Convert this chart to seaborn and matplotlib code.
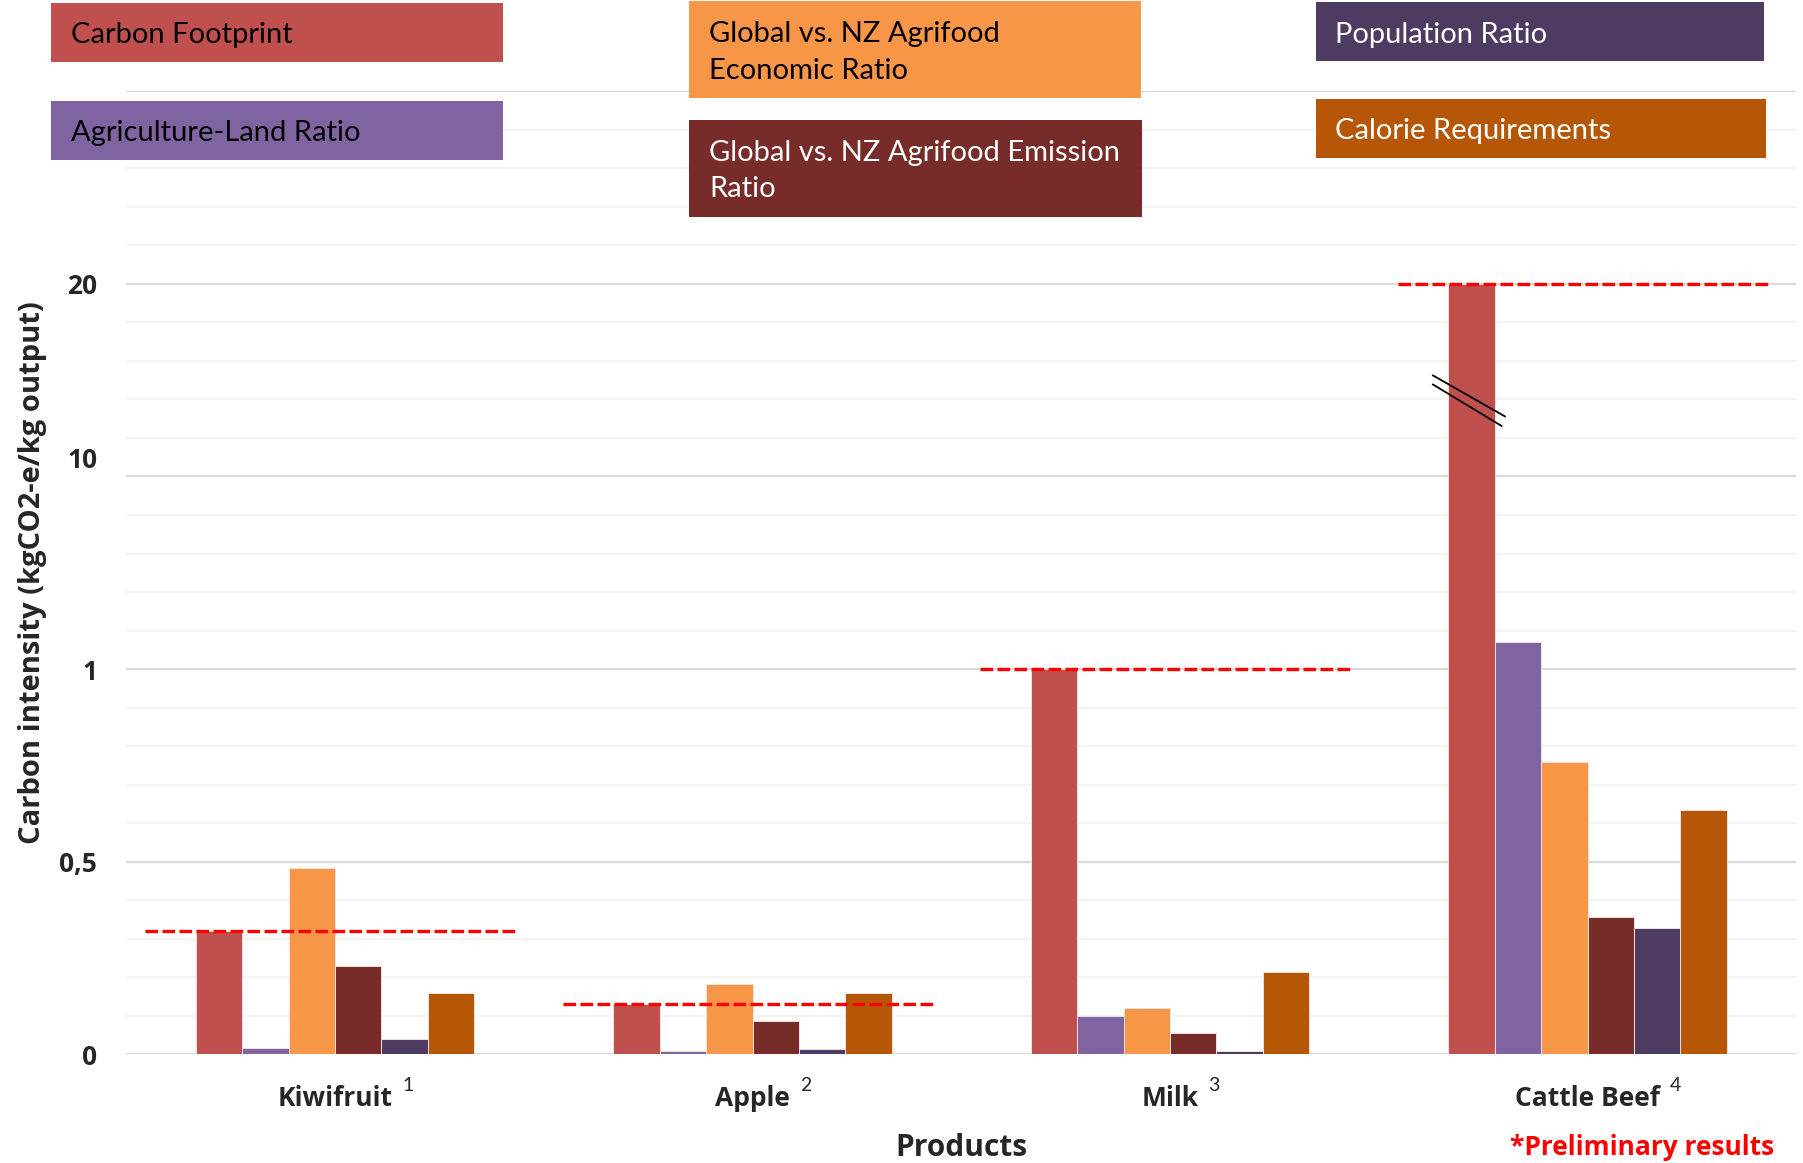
import numpy as np
import pandas as pd
import matplotlib
matplotlib.use("Agg")
import matplotlib.pyplot as plt
from matplotlib.patches import Rectangle
import seaborn as sns

# ---- data -------------------------------------------------------------
products = ["Kiwifruit", "Apple", "Milk", "Cattle Beef"]
product_refs = ["1", "2", "3", "4"]
series = [
    "Carbon Footprint",
    "Agriculture-Land Ratio",
    "Global vs. NZ Agrifood\nEconomic Ratio",
    "Global vs. NZ Agrifood Emission\nRatio",
    "Population Ratio",
    "Calorie Requirements",
]
carbon_footprint = [0.32, 0.13, 1.0, 20.0]
agri_land_ratio = [0.017, 0.009, 0.100, 2.13]
economic_ratio = [0.484, 0.182, 0.119, 0.759]
emission_ratio = [0.228, 0.086, 0.055, 0.357]
population_ratio = [0.041, 0.015, 0.008, 0.329]
calorie_req = [0.158, 0.158, 0.213, 0.635]

colors = ["#C0504D", "#8064A2", "#F79646", "#772C2A", "#4E3B62", "#B65708"]
text_colors = ["black", "black", "black", "white", "white", "white"]

y_ticks = [0, 0.5, 1, 10, 20]
y_tick_labels = ["0", "0,5", "1", "10", "20"]

values = [carbon_footprint, agri_land_ratio, economic_ratio,
          emission_ratio, population_ratio, calorie_req]
df = pd.DataFrame(
    [(p, s, v[i]) for s, v in zip(series, values) for i, p in enumerate(products)],
    columns=["product", "series", "value"],
)

# ---- broken value axis: 0-1 linear, then compressed 1-10 and 10-20 ----
_real = np.array([0.0, 1.0, 10.0, 20.0])
_disp = np.array([0.0, 1.0, 1.55, 2.0])
_top_slope = 0.045


def fwd(y):
    y = np.asarray(y, dtype=float)
    out = np.interp(y, _real, _disp)
    out = np.where(y < 0, y, out)
    out = np.where(y > 20, 2.0 + (y - 20) * _top_slope, out)
    return out


def inv(d):
    d = np.asarray(d, dtype=float)
    out = np.interp(d, _disp, _real)
    out = np.where(d < 0, d, out)
    out = np.where(d > 2.0, 20 + (d - 2.0) / _top_slope, out)
    return out


# ---- style ------------------------------------------------------------
sns.set_theme(style="white")
plt.rcParams["font.family"] = ["Lato", "DejaVu Sans"]
BOLD = ["Open Sans", "DejaVu Sans"]

W, H = 1803, 1163
fig = plt.figure(figsize=(W / 100, H / 100), dpi=100)
ax = fig.add_axes([126.25 / W, (H - 1054.3) / H, 1670 / W, 963 / H])
ax.set_yscale("function", functions=(fwd, inv))

sns.barplot(
    data=df, x="product", y="value", hue="series",
    order=products, hue_order=series, palette=colors, saturation=1,
    width=2 / 3, edgecolor="#f4e0df", linewidth=0.7,
    legend=False, ax=ax, zorder=3,
)

y_top = float(inv(2.5))
ax.set_ylim(0, y_top)
ax.set_xlim(-0.5, len(products) - 0.5)

# horizontal grid every 0.1 of the drawn height, stronger every 0.5
for k in range(26):
    yk = float(inv(k * 0.1))
    major = k % 5 == 0
    ax.axhline(yk, color="#d9d9d9" if major else "#f2f2f2",
               lw=1.6 if major else 1.3, zorder=1)

for s in ax.spines.values():
    s.set_visible(False)

# carbon-footprint reference lines
for i, cf in enumerate(carbon_footprint):
    ax.hlines(cf, i - 0.455, i + 0.436, colors="#ff0000",
              linestyles=(0, (3.8, 1.3)), lw=2.4, zorder=5)

# axis-break marks on the tall bar
ax.plot([0.782, 0.826], [0.7054, 0.662], transform=ax.transAxes,
        color="black", lw=1.3, zorder=6, solid_capstyle="butt")
ax.plot([0.782, 0.824], [0.696, 0.652], transform=ax.transAxes,
        color="black", lw=1.3, zorder=6, solid_capstyle="butt")

# ticks
ax.set_yticks(y_ticks + [y_top])
ax.set_yticklabels(y_tick_labels + ["2,5"], fontsize=19, fontweight="bold",
                   family=BOLD)
ax.yaxis.set_minor_locator(matplotlib.ticker.NullLocator())
ax.tick_params(axis="y", length=0, pad=21)
ax.tick_params(axis="x", length=0, pad=22)
ax.set_xticks(range(len(products)))
ax.set_xticklabels(products, fontsize=19, fontweight="bold", family=BOLD)

ax.set_xlabel("")
ax.set_ylabel("Carbon intensity (kgCO2-e/kg output)", fontsize=21,
              fontweight="bold", family=BOLD)
ax.yaxis.set_label_coords(-0.0475, 0.5)


def px_rect(x0, y0, x1, y1, color):
    fig.add_artist(Rectangle((x0 / W, 1 - y1 / H), (x1 - x0) / W,
                             (y1 - y0) / H, transform=fig.transFigure,
                             facecolor=color, edgecolor="none", zorder=10))


# white patch over the top label
px_rect(35, 83, 126, 101, "white")

# legend boxes
boxes = [
    (51, 3, 503, 62, 71, 34.8),
    (51, 101, 503, 160, 71, 133.3),
    (689, 1, 1141, 98, 709, 52.5),
    (689, 120, 1142, 217, 709, 171),
    (1316, 2, 1764, 61, 1335, 35.3),
    (1316, 99, 1766, 158, 1335, 131.3),
]
for (x0, y0, x1, y1, tx, ty), name, c, tc in zip(boxes, series, colors, text_colors):
    px_rect(x0, y0, x1, y1, c)
    fig.text(tx / W, 1 - ty / H, name, fontsize=21, color=tc,
             ha="left", va="center", linespacing=1.5, zorder=11)

fig.text(961 / W, 1 - 1148 / H, "Products", fontsize=21.5, fontweight="bold",
         family=BOLD, ha="center", va="center")
fig.text(1510 / W, 1 - 1155 / H, "*Preliminary results", fontsize=19,
         fontweight="bold", family=BOLD, color="#ff0000", ha="left",
         va="baseline")

# reference superscripts after each product name
fig.canvas.draw()
renderer = fig.canvas.get_renderer()
for lbl, ref in zip(ax.get_xticklabels(), product_refs):
    bb = lbl.get_window_extent(renderer)
    fig.text((bb.x1 + 10) / W, (H - 1085.5) / H, ref, fontsize=14,
             ha="left", va="center")

fig.savefig("out.png", dpi=100)
